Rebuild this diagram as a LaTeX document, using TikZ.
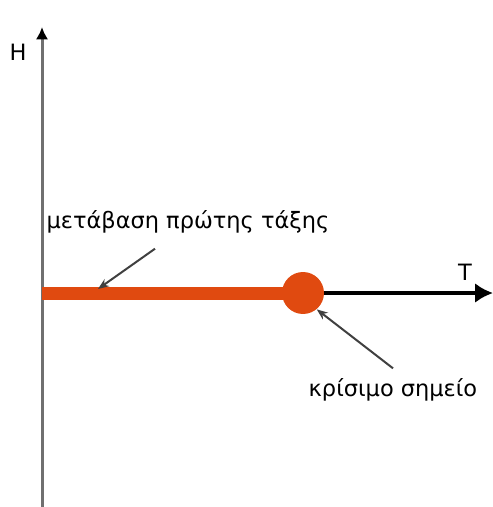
\documentclass[tikz,border=0pt]{standalone}
\usepackage{fontspec}
\setmainfont{DejaVu Sans}
\usetikzlibrary{arrows.meta}
\definecolor{lineOr}{HTML}{E04A10}
\definecolor{axGray}{HTML}{707070}
\begin{document}
\begin{tikzpicture}[
    x=0.02cm, y=-0.02cm,
    axis/.style={line width=0.06cm},
    lbl/.style={font=\fontsize{12.8}{15}\selectfont, inner sep=0pt},
    ptr/.style={->, >={Stealth[length=0.22cm,width=0.17cm]}, line width=0.04cm, black!75},
]
\useasboundingbox (0,0) rectangle (493,507);

% --- axes ---
\coordinate (origin) at (42,293);
\coordinate (ybot) at (42,507);
\coordinate (ytop) at (42,27);
\coordinate (xend) at (493,293);
\draw[axis, axGray, -{Latex[black,length=0.25cm,width=0.25cm]}] (ybot) -- (ytop);
\draw[axis, line width=0.08cm, -{Latex[length=0.36cm,width=0.4cm]}] (origin) -- (xend);
\node[lbl] (hlab) at (18,52) {H};
\node[lbl] (tlab) at (465,272) {T};

% --- first order line and critical point ---
\node[circle, fill=lineOr, minimum size=0.84cm, inner sep=0pt] (crit) at (303,293) {};
\draw[lineOr, line width=0.26cm] (origin) -- (crit.center);

% --- labels ---
\node[lbl] (first) at (188,222) {μετάβαση πρώτης τάξης};
\node[lbl] (critlab) at (393,390) {κρίσιμο σημείο};
\coordinate (firstend) at (98,289);
\draw[ptr] ([xshift=-0.66cm, yshift=-0.3cm]first.south) -- (firstend);
\draw[ptr] ([yshift=0.2cm]critlab.north) -- (crit.-50);
\end{tikzpicture}
\end{document}
